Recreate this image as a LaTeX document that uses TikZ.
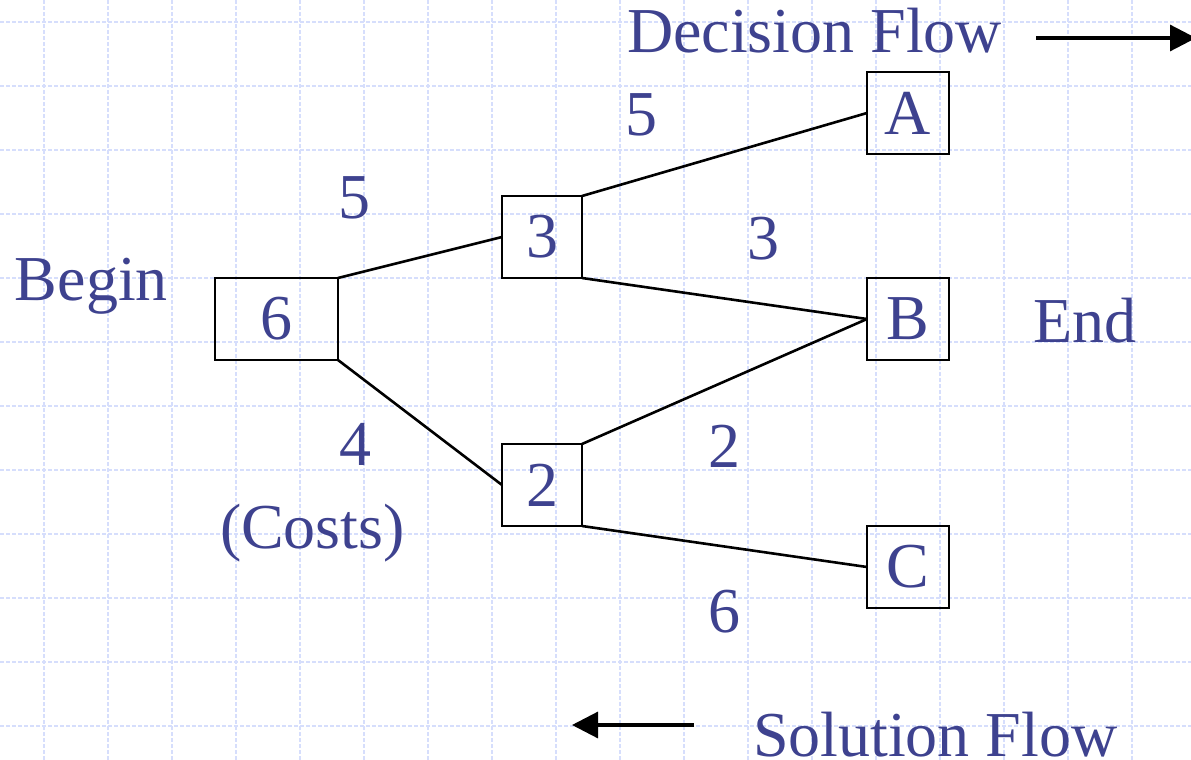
\documentclass[tikz,border=0pt]{standalone}
\usepackage{fontspec}
\setmainfont{Liberation Serif}
\usetikzlibrary{arrows.meta}
\definecolor{txtblue}{RGB}{62,66,143}
\definecolor{gridlav}{RGB}{214,222,252}
\begin{document}
\begin{tikzpicture}[x=0.5pt,y=-0.5pt,
  gridline/.style={draw=gridlav,line width=1.3pt,dash pattern=on 2pt off 1pt},
  box/.style={draw=black,line width=1.3pt,inner sep=0pt,outer sep=0pt,text=txtblue,
    font=\fontsize{32}{38}\selectfont,minimum height=41pt},
  lbl/.style={inner sep=0pt,outer sep=0pt,text=txtblue,font=\fontsize{32}{38}\selectfont,anchor=base},
  conn/.style={draw=black,line width=1.3pt},
  flow/.style={draw=black,line width=1.6pt,-{Triangle[length=13pt,width=13pt]}}]
\useasboundingbox (0,0) rectangle (1191,760);
\fill[white] (0,0) rectangle (1191,760);
% grid
\foreach \i in {0,...,17} \draw[gridline] ({44+64*\i},0) -- ({44+64*\i},760);
\foreach \j in {0,...,11} \draw[gridline] (0,{22+64*\j}) -- (1191,{22+64*\j});
% boxes
\node[box,minimum width=61.5pt] (n6) at (276.5,319) {6};
\node[box,minimum width=40pt] (n3) at (542,237) {3};
\node[box,minimum width=40pt] (n2) at (542,485) {2};
\node[box,minimum width=41pt] (nA) at (908,113) {A};
\node[box,minimum width=41pt] (nB) at (908,319) {B};
\node[box,minimum width=41pt] (nC) at (908,567) {C};
% connectors
\draw[conn] (n6.north east) -- (n3.west);
\draw[conn] (n6.south east) -- (n2.west);
\draw[conn] (n3.north east) -- (nA.west);
\draw[conn] (n3.south east) -- (nB.west);
\draw[conn] (n2.north east) -- (nB.west);
\draw[conn] (n2.south east) -- (nC.west);
% labels
\node[lbl,anchor=base west] (tdec) at (627,53) {Decision Flow};
\node[lbl] (c5a) at (641,135) {5};
\node[lbl] (c5b) at (354,218) {5};
\node[lbl] (c3) at (763,259) {3};
\node[lbl,anchor=base west] (tbeg) at (15,300) {Begin};
\node[lbl,anchor=base west] (tend) at (1033,342) {End};
\node[lbl] (c4) at (355,465) {4};
\node[lbl] (c2) at (724,467) {2};
\node[lbl,anchor=base west] (tcost) at (220,548) {(Costs)};
\node[lbl] (c6) at (724,632) {6};
\node[lbl,anchor=base west] (tsol) at (753,756) {Solution Flow};
% flow arrows
\coordinate (d1) at (1036,38);
\coordinate (d2) at (1196,38);
\draw[flow] (d1) -- (d2);
\coordinate (s1) at (694,725);
\coordinate (s2) at (572,725);
\draw[flow] (s1) -- (s2);
\end{tikzpicture}
\end{document}
